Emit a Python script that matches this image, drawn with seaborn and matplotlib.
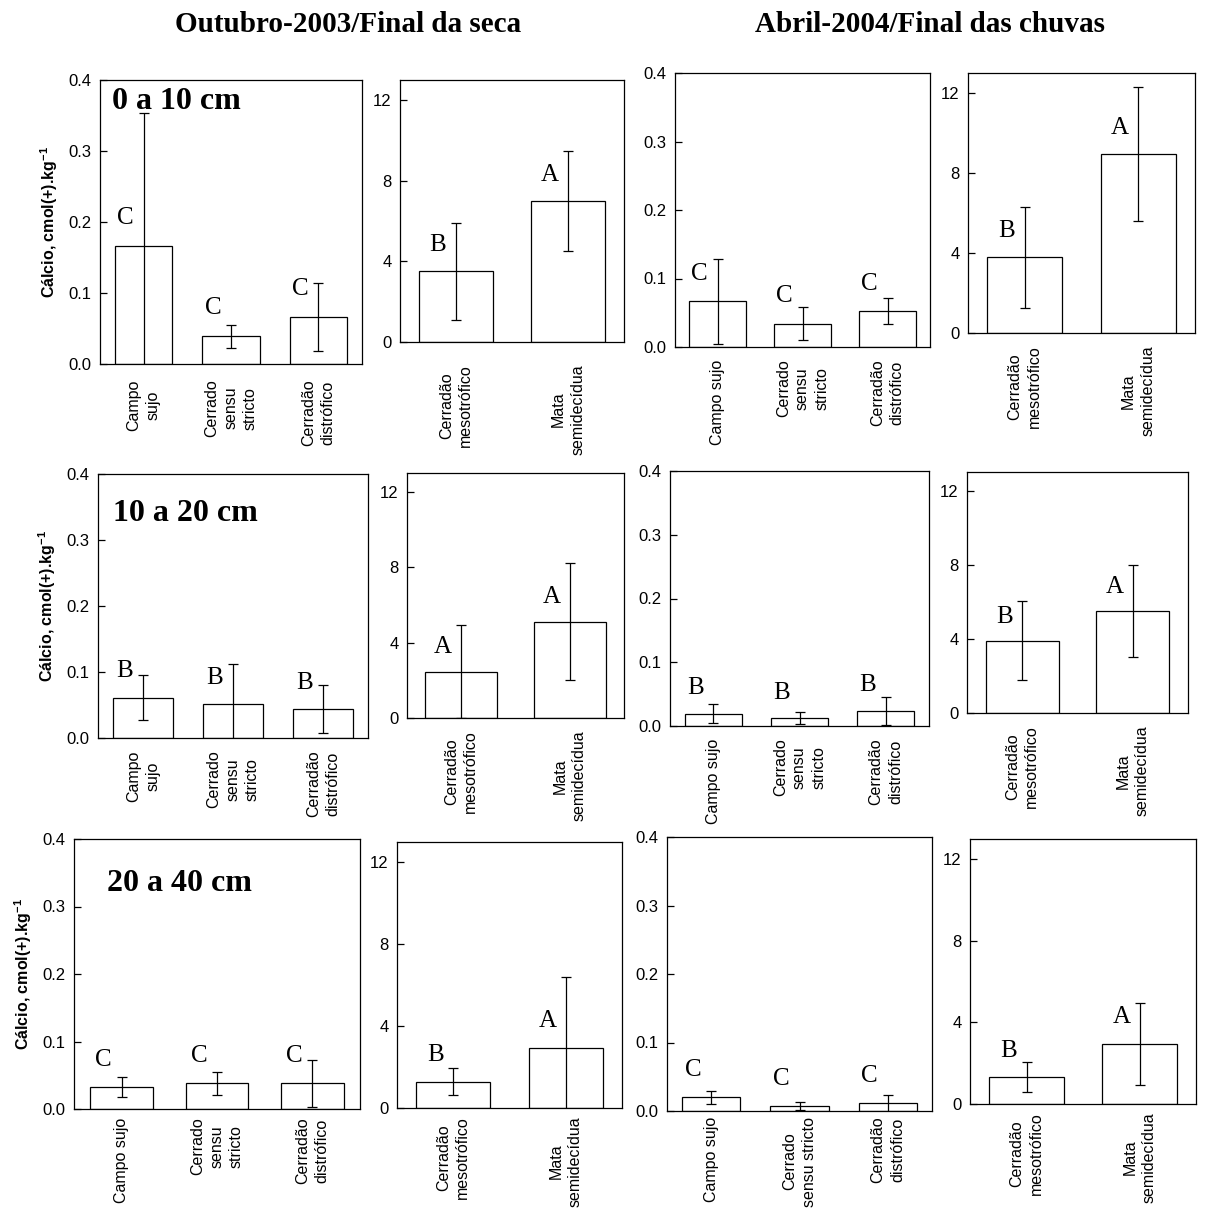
import matplotlib
matplotlib.use('Agg')
import matplotlib.pyplot as plt
import seaborn as sns
import numpy as np
from matplotlib.ticker import FormatStrFormatter

# category labels (line breaks differ between panels, as in the original)
cats_left_a = ['Campo\nsujo', 'Cerrado\nsensu\nstricto', 'Cerradão\ndistrófico']
cats_left_b = ['Campo sujo', 'Cerrado\nsensu\nstricto', 'Cerradão\ndistrófico']
cats_left_c = ['Campo sujo', 'Cerrado\nsensu stricto', 'Cerradão\ndistrófico']
cats_right = ['Cerradão\nmesotrófico', 'Mata\nsemidecídua']

depths = ['0 a 10 cm', '10 a 20 cm', '20 a 40 cm']
seasons = ['Outubro-2003/Final da seca', 'Abril-2004/Final das chuvas']

# Ca means / errors, cmol(+).kg-1
oct_0_10_l = [0.166, 0.039, 0.066]
oct_0_10_l_err = [0.188, 0.016, 0.048]
oct_0_10_l_let = ['C', 'C', 'C']
oct_0_10_r = [3.5, 7.0]
oct_0_10_r_err = [2.4, 2.5]
oct_0_10_r_let = ['B', 'A']

apr_0_10_l = [0.067, 0.034, 0.052]
apr_0_10_l_err = [0.062, 0.024, 0.019]
apr_0_10_l_let = ['C', 'C', 'C']
apr_0_10_r = [3.78, 8.96]
apr_0_10_r_err = [2.53, 3.35]
apr_0_10_r_let = ['B', 'A']

oct_10_20_l = [0.061, 0.051, 0.044]
oct_10_20_l_err = [0.034, 0.061, 0.036]
oct_10_20_l_let = ['B', 'B', 'B']
oct_10_20_r = [2.46, 5.1]
oct_10_20_r_err = [2.46, 3.1]
oct_10_20_r_let = ['A', 'A']

apr_10_20_l = [0.019, 0.012, 0.024]
apr_10_20_l_err = [0.015, 0.0095, 0.022]
apr_10_20_l_let = ['B', 'B', 'B']
apr_10_20_r = [3.9, 5.5]
apr_10_20_r_err = [2.12, 2.47]
apr_10_20_r_let = ['B', 'A']

oct_20_40_l = [0.033, 0.038, 0.038]
oct_20_40_l_err = [0.015, 0.017, 0.035]
oct_20_40_l_let = ['C', 'C', 'C']
oct_20_40_r = [1.29, 2.95]
oct_20_40_r_err = [0.65, 3.47]
oct_20_40_r_let = ['B', 'A']

apr_20_40_l = [0.020, 0.0073, 0.0112]
apr_20_40_l_err = [0.0095, 0.0055, 0.012]
apr_20_40_l_let = ['C', 'C', 'C']
apr_20_40_r = [1.31, 2.95]
apr_20_40_r_err = [0.745, 2.0]
apr_20_40_r_let = ['B', 'A']

sns.set_theme(style='white')
plt.rcParams['font.family'] = ['Liberation Sans', 'DejaVu Sans']
plt.rcParams['mathtext.fontset'] = 'custom'
plt.rcParams['mathtext.rm'] = 'Liberation Sans'
plt.rcParams['mathtext.bf'] = 'Liberation Sans:bold'
plt.rcParams['text.color'] = 'black'
plt.rcParams['axes.labelcolor'] = 'black'
plt.rcParams['xtick.color'] = 'black'
plt.rcParams['ytick.color'] = 'black'
plt.rcParams['axes.edgecolor'] = 'black'
plt.rcParams['axes.linewidth'] = 0.9

W, H = 1205, 1214
fig = plt.figure(figsize=(W / 100, H / 100), dpi=100)
fig.patch.set_facecolor('white')

SERIF = ['Liberation Serif', 'DejaVu Serif']


def box(x0, x1, y0, y1):
    # pixel box -> figure fraction
    return [x0 / W, 1 - y1 / H, (x1 - x0) / W, (y1 - y0) / H]


def panel(rect, cats, means, errs, letters, ymax, yticks, fmt, pad=9):
    ax = fig.add_axes(rect)
    sns.barplot(x=cats, y=means, ax=ax, color='white', edgecolor='black',
                linewidth=0.9, width=0.66, errorbar=None, saturation=1)
    x = np.arange(len(means))
    ax.errorbar(x, means, yerr=errs, fmt='none', ecolor='black',
                elinewidth=0.9, capsize=3.5, capthick=0.9)
    for i, (m, let) in enumerate(zip(means, letters)):
        ax.annotate(let, (i, m + 0.1 * ymax), xytext=(-13, 0),
                    textcoords='offset points', ha='center', va='center',
                    fontsize=18, family=SERIF, color='black')
    ax.set_xlim(-0.5, len(means) - 0.5)
    ax.set_ylim(0, ymax)
    ax.set_yticks(yticks)
    ax.yaxis.set_major_formatter(FormatStrFormatter(fmt))
    ax.set_xticks(x)
    ax.set_xticklabels(cats, rotation=90, fontsize=11.5, linespacing=1.35,
                       ha='center', va='top', multialignment='center')
    ax.tick_params(axis='x', length=0, pad=pad)
    ax.tick_params(axis='y', direction='in', length=5, width=0.9,
                   labelsize=12, pad=6, left=True)
    ax.set_xlabel('')
    ax.set_ylabel('')
    for s in ax.spines.values():
        s.set_visible(True)
        s.set_color('black')
        s.set_linewidth(0.9)
    return ax


left_ticks = [0.0, 0.1, 0.2, 0.3, 0.4]
right_ticks = [0, 4, 8, 12]
ylab = r'Cálcio, cmol(+).kg$^{\mathbf{-1}}$'

# row 1 : 0 a 10 cm
a = panel(box(100, 362, 80, 364), cats_left_a, oct_0_10_l, oct_0_10_l_err,
          oct_0_10_l_let, 0.4, left_ticks, '%.1f', pad=11)
panel(box(400, 624, 80, 342), cats_right, oct_0_10_r, oct_0_10_r_err,
      oct_0_10_r_let, 13, right_ticks, '%d', pad=16)
panel(box(675, 930, 73, 347), cats_left_b, apr_0_10_l, apr_0_10_l_err,
      apr_0_10_l_let, 0.4, left_ticks, '%.1f')
panel(box(968, 1195, 73, 333), cats_right, apr_0_10_r, apr_0_10_r_err,
      apr_0_10_r_let, 13, right_ticks, '%d')

# row 2 : 10 a 20 cm
e = panel(box(98, 368, 474, 738), cats_left_a, oct_10_20_l, oct_10_20_l_err,
          oct_10_20_l_let, 0.4, left_ticks, '%.1f')
panel(box(407, 624, 473, 718), cats_right, oct_10_20_r, oct_10_20_r_err,
      oct_10_20_r_let, 13, right_ticks, '%d')
panel(box(670, 929, 471, 726), cats_left_b, apr_10_20_l, apr_10_20_l_err,
      apr_10_20_l_let, 0.4, left_ticks, '%.1f')
panel(box(967, 1188, 472, 713), cats_right, apr_10_20_r, apr_10_20_r_err,
      apr_10_20_r_let, 13, right_ticks, '%d')

# row 3 : 20 a 40 cm
i_ax = panel(box(74, 360, 839, 1109), cats_left_b, oct_20_40_l, oct_20_40_l_err,
             oct_20_40_l_let, 0.4, left_ticks, '%.1f', pad=6)
panel(box(397, 622, 842, 1108), cats_right, oct_20_40_r, oct_20_40_r_err,
      oct_20_40_r_let, 13, right_ticks, '%d', pad=6)
panel(box(667, 932, 837, 1111), cats_left_c, apr_20_40_l, apr_20_40_l_err,
      apr_20_40_l_let, 0.4, left_ticks, '%.1f', pad=4)
panel(box(970, 1196, 839, 1104), cats_right, apr_20_40_r, apr_20_40_r_err,
      apr_20_40_r_let, 13, right_ticks, '%d', pad=6)

for ax, depth, pos in [(a, depths[0], (0.046, 0.923)),
                       (e, depths[1], (0.057, 0.851)),
                       (i_ax, depths[2], (0.117, 0.836))]:
    ax.set_ylabel(ylab, fontsize=11.5, fontweight='bold', labelpad=6)
    ax.text(pos[0], pos[1], depth, transform=ax.transAxes, ha='left',
            va='center', fontsize=23, fontweight='bold', family=SERIF)

fig.text(348 / W, 1 - 24 / H, seasons[0], ha='center', va='center',
         fontsize=21, fontweight='bold', family=SERIF)
fig.text(930 / W, 1 - 24 / H, seasons[1], ha='center', va='center',
         fontsize=21, fontweight='bold', family=SERIF)

fig.savefig('out.png', dpi=100, facecolor='white')
